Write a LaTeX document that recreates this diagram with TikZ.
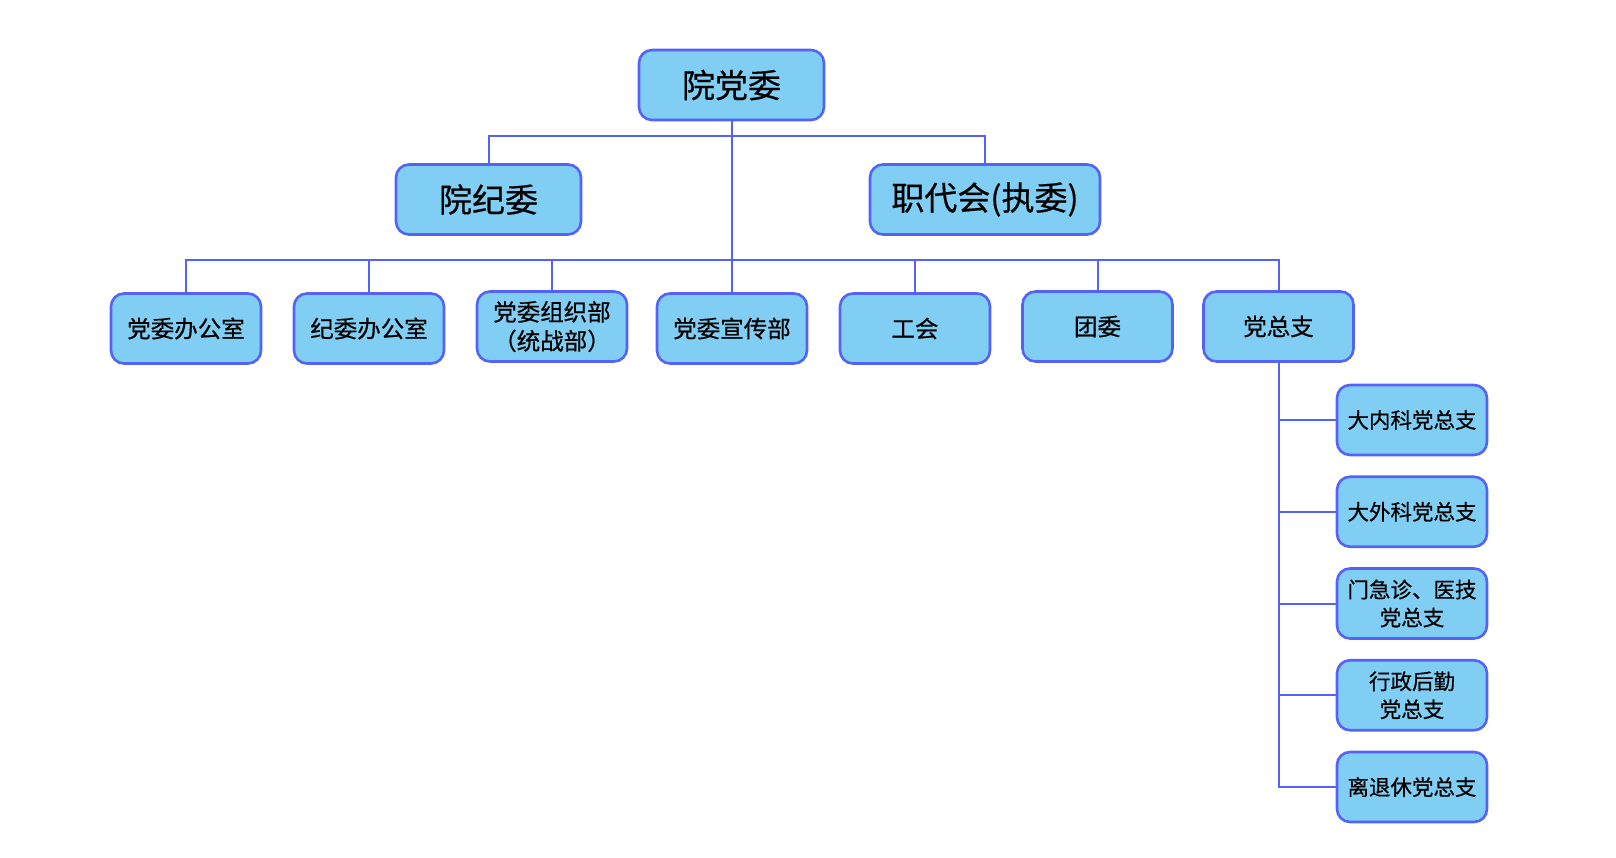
\documentclass[tikz,border=0pt]{standalone}
\usepackage{fontspec}
\setmainfont[FakeBold=0.5]{Noto Sans CJK SC}
\definecolor{boxfill}{RGB}{128,206,243}
\definecolor{boxline}{RGB}{84,98,248}
\begin{document}
\begin{tikzpicture}[x=1pt, y=-1pt,
    every node/.style={rectangle, rounded corners=13pt, draw=boxline, line width=2.6pt,
      fill=boxfill, align=center, inner sep=0pt},
    big/.style={minimum height=70pt, font=\fontsize{33}{38}\selectfont},
    mid/.style={minimum width=150pt, minimum height=70pt, font=\fontsize{23.5}{29}\selectfont},
    small/.style={minimum width=150pt, minimum height=70pt, font=\fontsize{21.5}{28}\selectfont},
    link/.style={draw=boxline, line width=2pt}]
      \useasboundingbox (0,0) rectangle (1616,857);

      \node[big, minimum width=185pt] (ydw) at (731.5,85) {院党委};
      \node[big, minimum width=185pt] (yjw) at (488.5,199.5) {院纪委};
      \node[big, minimum width=230pt] (zdh) at (985,199.5) {职代会(执委)};

      \node[mid] (dwbgs) at (186,328.5) {党委办公室};
      \node[mid] (jwbgs) at (369,328.5) {纪委办公室};
      \node[mid] (zzb) at (552,326.5) {党委组织部\\（统战部）};
      \node[mid] (xcb) at (732,328.5) {党委宣传部};
      \node[mid] (gh) at (915,328.5) {工会};
      \node[mid] (tw) at (1097.5,326.5) {团委};
      \node[mid] (dzz) at (1278.5,326.5) {党总支};

      \node[small] (dnk) at (1412,420) {大内科党总支};
      \node[small] (dwk) at (1412,511.75) {大外科党总支};
      \node[small] (mjz) at (1412,603.5) {门急诊、医技\\党总支};
      \node[small] (xzhq) at (1412,695.25) {行政后勤\\党总支};
      \node[small] (ltx) at (1412,787) {离退休党总支};

      \coordinate (bus) at (0,260);

      \draw[link] (yjw.north) -- ++(0,-27) -| (zdh.north);
      \draw[link] (ydw.south) -- (ydw.south |- xcb.north);
      \draw[link] (dwbgs.north) |- (bus -| dzz.north) -- (dzz.north);
      \foreach \n in {jwbgs, zzb, gh, tw}
        \draw[link] (\n.north) -- (\n.north |- bus);

      \draw[link] (dzz.south) |- (ltx.west);
      \foreach \n in {dnk, dwk, mjz, xzhq}
        \draw[link] (\n.west) -- (\n.west -| dzz.south);
\end{tikzpicture}
\end{document}
